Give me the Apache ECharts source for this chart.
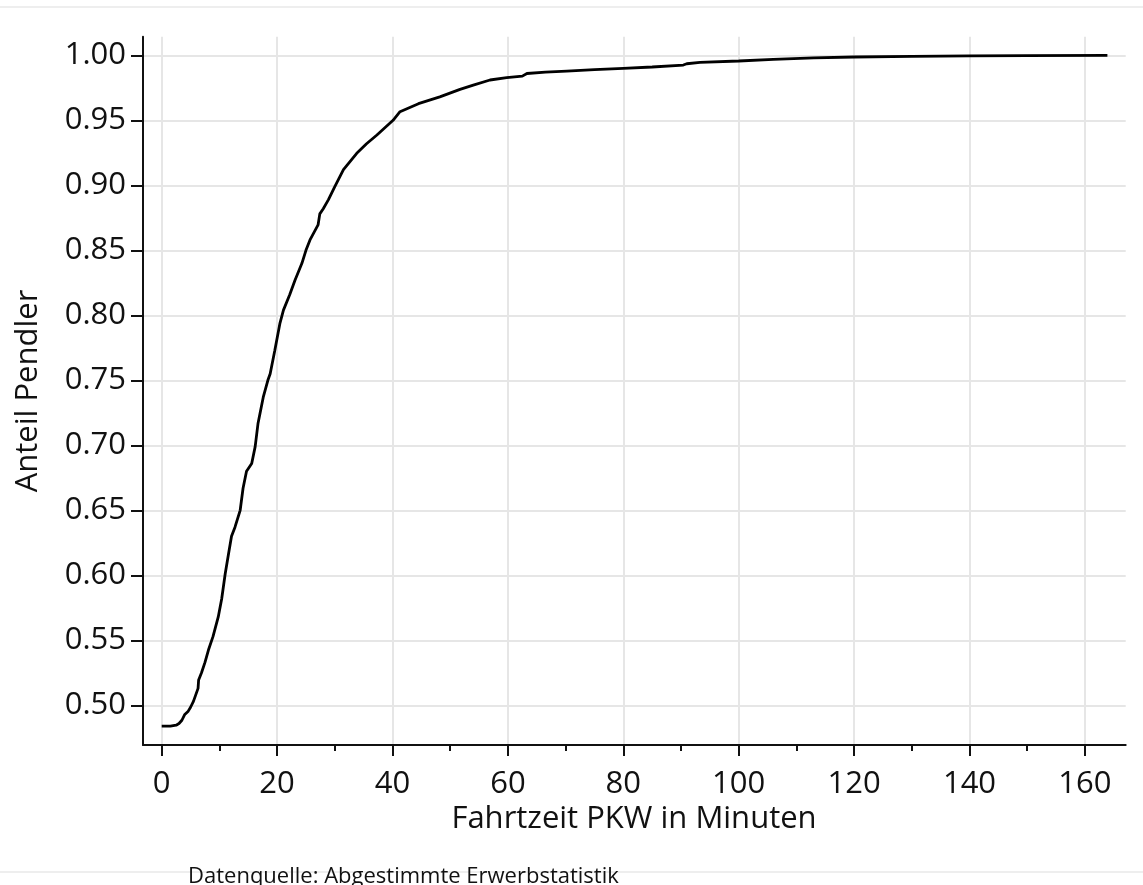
<!DOCTYPE html>
<html>
<head>
<meta charset="utf-8">
<script src="https://cdn.jsdelivr.net/npm/echarts@6/dist/echarts.min.js"></script>
<style>
html,body{margin:0;padding:0;background:#fff;}
#chart{width:1143px;height:885px;}
</style>
</head>
<body>
<div id="chart"></div>
<script>
// Data: cumulative share of commuters by car travel time (minutes)
const times = [0, 1.5, 2.5, 3.0, 3.5, 4.0, 4.6, 5.0, 5.5, 5.9, 6.3, 6.4, 6.9, 7.5, 8.1, 8.9, 9.8, 10.4, 11.0, 11.6, 12.1, 12.7, 13.6, 14.1, 14.7, 15.6, 16.2, 16.7, 17.6, 18.4, 18.8, 19.6, 20.5, 21.1, 22.2, 23.1, 24.3, 25.0, 25.7, 27.1, 27.4, 28.0, 28.9, 30.0, 31.5, 33.8, 35.5, 37.3, 40.1, 41.3, 44.5, 48.2, 51.7, 54.0, 56.9, 59.8, 62.5, 63.3, 66.5, 70.2, 75.0, 80.0, 85.0, 90.4, 91.0, 93.3, 100, 106, 113, 120, 130, 140, 150, 163.9];
const shares = [0.484, 0.484, 0.4847, 0.486, 0.4885, 0.493, 0.4955, 0.4985, 0.503, 0.508, 0.513, 0.5195, 0.525, 0.533, 0.5425, 0.553, 0.568, 0.582, 0.601, 0.617, 0.630, 0.637, 0.650, 0.667, 0.680, 0.686, 0.699, 0.717, 0.737, 0.750, 0.755, 0.773, 0.794, 0.804, 0.816, 0.827, 0.840, 0.850, 0.858, 0.8695, 0.878, 0.882, 0.889, 0.899, 0.912, 0.9246, 0.932, 0.9387, 0.950, 0.9566, 0.9628, 0.968, 0.9738, 0.977, 0.981, 0.9828, 0.984, 0.986, 0.987, 0.9879, 0.989, 0.990, 0.991, 0.9925, 0.9935, 0.9946, 0.9956, 0.9968, 0.998, 0.9987, 0.9991, 0.9995, 0.9998, 1.0];

const xTickMin = 0, xTickMax = 160, xTickStep = 20;
const yTickMin = 0.50, yTickMax = 1.00, yTickStep = 0.05;
const xTitle = 'Fahrtzeit PKW in Minuten';
const yTitle = 'Anteil Pendler';
const sourceNote = 'Datenquelle: Abgestimmte Erwerbstatistik';

// Layout (pixels)
const W = 1143, H = 885;
const PL = 143, PR = 1125.7, PT = 36.7, PB = 745;
const X0 = 161.7, PXMIN = 5.77;      // pixel of x=0, px per minute
const Y50 = 705.3, PXUNIT = 1300;    // pixel of y=0.50, px per unit
const XEND = X0 + (xTickMax - xTickMin) * PXMIN;
const Y100 = Y50 - (yTickMax - yTickMin) * PXUNIT;

const dxMin = (PL - X0) / PXMIN, dxMax = (PR - X0) / PXMIN;
const dyMin = yTickMin - (PB - Y50) / PXUNIT, dyMax = yTickMin + (Y50 - PT) / PXUNIT;

const FONT = "'Open Sans', 'DejaVu Sans', sans-serif";
const TXT = '#111';
const GRIDC = '#e6e6e6';

const chart = echarts.init(document.getElementById('chart'), null, {renderer: 'canvas'});
chart.setOption({
  animation: false,
  backgroundColor: '#fff',
  grid: [
    {left: PL, top: PT, width: PR - PL, height: PB - PT, containLabel: false},
    {left: X0, top: PT, width: XEND - X0, height: PB - PT, containLabel: false},
    {left: PL, top: Y100, width: PR - PL, height: Y50 - Y100, containLabel: false}
  ],
  xAxis: [
    {gridIndex: 0, type: 'value', min: dxMin, max: dxMax,
     axisLine: {show: true, onZero: false, lineStyle: {color: '#111', width: 2}},
     axisTick: {show: false}, axisLabel: {show: false}, splitLine: {show: false}},
    {gridIndex: 1, type: 'value', min: xTickMin, max: xTickMax, interval: xTickStep,
     axisLine: {show: false, onZero: false},
     axisTick: {show: true, length: 11, lineStyle: {color: '#111', width: 2}},
     minorTick: {show: true, splitNumber: 2, length: 6, lineStyle: {color: '#111', width: 2}},
     axisLabel: {show: true, margin: 24, fontSize: 31, fontFamily: FONT, color: TXT},
     splitLine: {show: true, lineStyle: {color: GRIDC, width: 2}}},
    {gridIndex: 2, type: 'value', show: false}
  ],
  yAxis: [
    {gridIndex: 0, type: 'value', min: dyMin, max: dyMax,
     axisLine: {show: true, onZero: false, lineStyle: {color: '#111', width: 2}},
     axisTick: {show: false}, axisLabel: {show: false}, splitLine: {show: false}},
    {gridIndex: 1, type: 'value', show: false},
    {gridIndex: 2, type: 'value', min: yTickMin, max: yTickMax, interval: yTickStep,
     axisLine: {show: false, onZero: false},
     axisTick: {show: true, length: 12, lineStyle: {color: '#111', width: 2}},
     axisLabel: {show: true, margin: 17, fontSize: 31, fontFamily: FONT, color: TXT,
                 formatter: v => v.toFixed(2)},
     splitLine: {show: true, lineStyle: {color: GRIDC, width: 2}}}
  ],
  series: [{
    type: 'line',
    xAxisIndex: 0, yAxisIndex: 0,
    data: times.map((t, i) => [t, shares[i]]),
    showSymbol: false,
    smooth: false,
    lineStyle: {color: '#000', width: 2.8},
    z: 5
  }],
  graphic: [
    {type: 'line', shape: {x1: 0, y1: 7, x2: W, y2: 7}, style: {stroke: '#eeeeee', lineWidth: 2}, z: -1},
    {type: 'line', shape: {x1: 0, y1: 872, x2: W, y2: 872}, style: {stroke: '#eeeeee', lineWidth: 2}, z: -1},
    {type: 'text', x: 634, y: 819, style: {text: xTitle, font: "31px " + FONT, fill: TXT, textAlign: 'center', textVerticalAlign: 'middle'}},
    {type: 'text', x: 28, y: 391, rotation: Math.PI / 2, style: {text: yTitle, font: "31px " + FONT, fill: TXT, textAlign: 'center', textVerticalAlign: 'middle'}},
    {type: 'text', x: 188, y: 877, style: {text: sourceNote, font: "22px " + FONT, fill: TXT, textAlign: 'left', textVerticalAlign: 'middle'}}
  ]
});
</script>
</body>
</html>
